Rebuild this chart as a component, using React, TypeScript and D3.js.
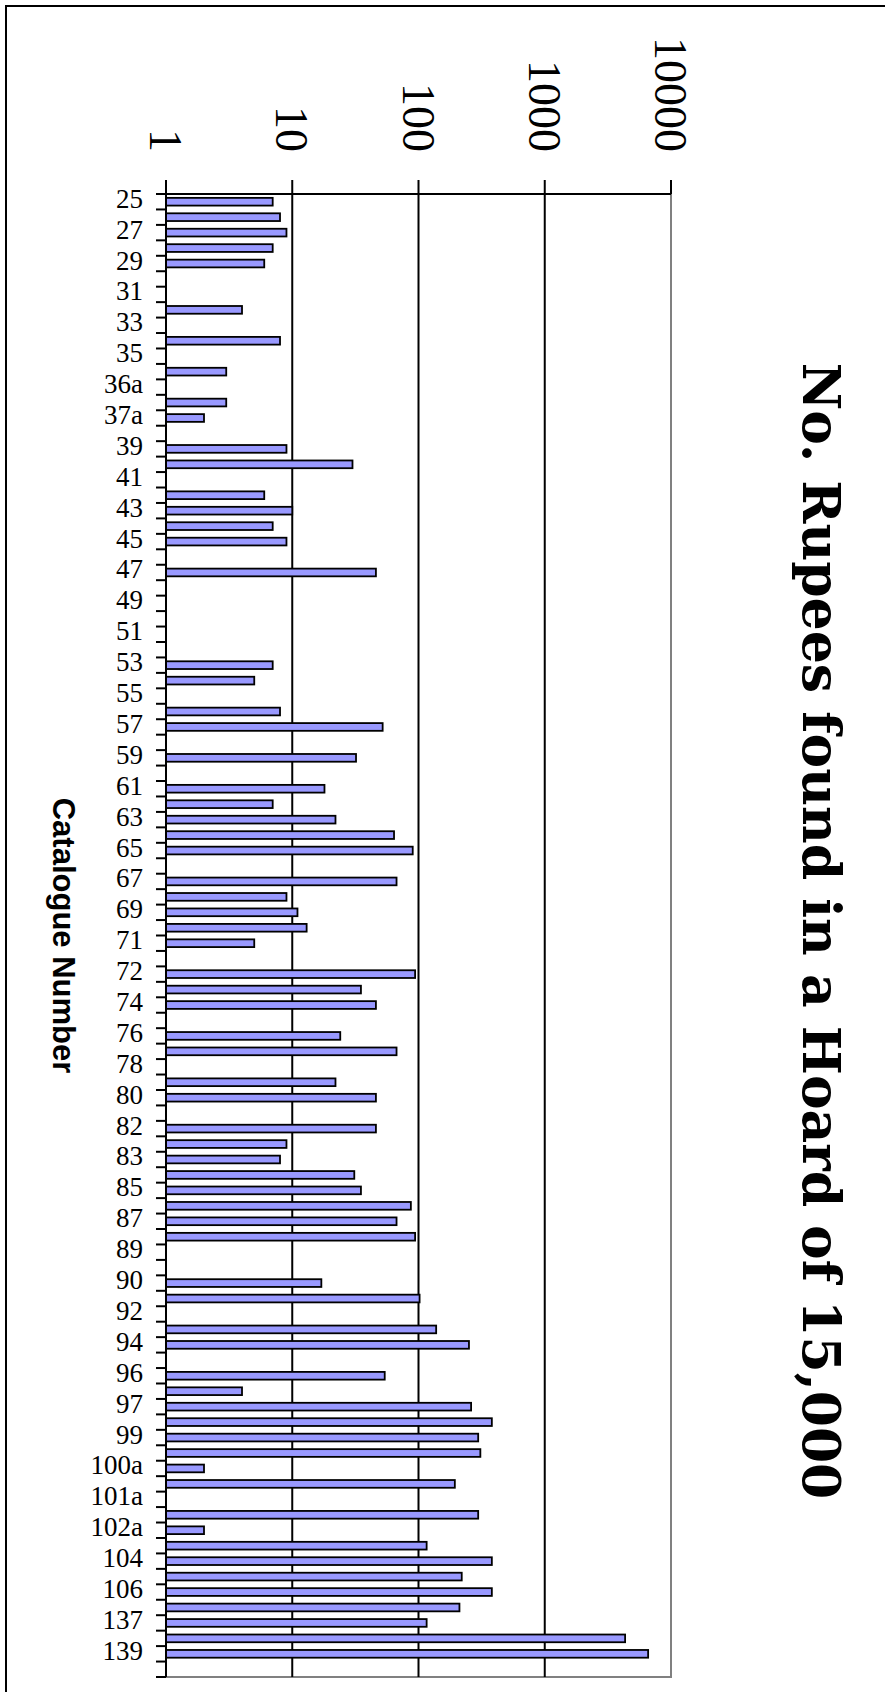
import React, { useEffect, useRef } from "react";
import * as d3 from "d3";

// catalogue numbers, top to bottom (only every other one gets a label)
const categories = [
  "25", "26", "27", "28", "29", "30", "31", "32", "33", "34", "35", "36",
  "36a", "37", "37a", "38", "39", "40", "41", "42", "43", "44", "45", "46",
  "47", "48", "49", "50", "51", "52", "53", "54", "55", "56", "57", "58",
  "59", "60", "61", "62", "63", "64", "65", "66", "67", "68", "69", "70",
  "71", "71a", "72", "73", "74", "75", "76", "77", "78", "79", "80", "81",
  "82", "82a", "83", "84", "85", "86", "87", "88", "89", "89a", "90", "91",
  "92", "93", "94", "95", "96", "96a", "97", "98", "99", "100", "100a", "101",
  "101a", "102", "102a", "103", "104", "105", "106", "136", "137", "138", "139", "140",
];

// number of rupees per catalogue number (0 = none found)
const rupees = [
  7, 8, 9, 7, 6, 0, 0, 4, 0, 8, 0, 3,
  0, 3, 2, 0, 9, 30, 0, 6, 10, 7, 9, 0,
  46, 0, 0, 0, 0, 0, 7, 5, 0, 8, 52, 0,
  32, 0, 18, 7, 22, 64, 90, 0, 67, 9, 11, 13,
  5, 0, 94, 35, 46, 0, 24, 67, 0, 22, 46, 0,
  46, 9, 8, 31, 35, 87, 67, 94, 0, 0, 17, 102,
  0, 138, 251, 0, 54, 4, 261, 381, 297, 309, 2, 194,
  0, 297, 2, 116, 381, 220, 381, 211, 116, 4330, 6590, 0,
];

const valueTicks = [1, 10, 100, 1000, 10000];

const title = "No. Rupees found in a Hoard of 15,000";
const axisTitle = "Catalogue Number";

const WIDTH = 885;
const HEIGHT = 1692;
const plot = { left: 166, right: 671, top: 194, bottom: 1677 };

export default function App() {
  const ref = useRef<SVGSVGElement>(null);

  useEffect(() => {
    const svg = d3.select(ref.current);
    svg.selectAll("*").remove();

    const x = d3.scaleLog().domain([1, 10000]).range([plot.left, plot.right]);
    const y = d3
      .scaleBand<string>()
      .domain(categories)
      .range([plot.top, plot.bottom])
      .paddingInner(0.5)
      .paddingOuter(0.25);
    const step = y.step();

    // chart frame (right / bottom edges fall outside the page)
    svg
      .append("rect")
      .attr("x", 6)
      .attr("y", 6)
      .attr("width", 1200)
      .attr("height", 2000)
      .attr("fill", "none")
      .attr("stroke", "#000")
      .attr("stroke-width", 2);

    // plot area border
    svg
      .append("rect")
      .attr("x", plot.left)
      .attr("y", plot.top)
      .attr("width", plot.right - plot.left)
      .attr("height", plot.bottom - plot.top)
      .attr("fill", "#fff")
      .attr("stroke", "#808080")
      .attr("stroke-width", 2);

    // gridlines
    svg
      .append("g")
      .selectAll("line")
      .data(valueTicks.slice(1, -1))
      .join("line")
      .attr("x1", (d) => x(d))
      .attr("x2", (d) => x(d))
      .attr("y1", plot.top)
      .attr("y2", plot.bottom)
      .attr("stroke", "#000")
      .attr("stroke-width", 2);

    // bars
    const rows = categories
      .map((c, i) => ({ cat: c, value: rupees[i] }))
      .filter((d) => d.value > 0);
    svg
      .append("g")
      .selectAll("rect")
      .data(rows)
      .join("rect")
      .attr("x", x(1))
      .attr("y", (d) => y(d.cat) ?? 0)
      .attr("width", (d) => x(d.value) - x(1))
      .attr("height", y.bandwidth())
      .attr("fill", "#9999ff")
      .attr("stroke", "#000")
      .attr("stroke-width", 1.8);

    // value axis along the top
    const vAxis = svg.append("g");
    vAxis
      .append("line")
      .attr("x1", plot.left)
      .attr("x2", plot.right)
      .attr("y1", plot.top)
      .attr("y2", plot.top)
      .attr("stroke", "#000")
      .attr("stroke-width", 2);
    vAxis
      .selectAll(".tick")
      .data(valueTicks)
      .join("line")
      .attr("class", "tick")
      .attr("x1", (d) => x(d))
      .attr("x2", (d) => x(d))
      .attr("y1", plot.top - 14)
      .attr("y2", plot.top)
      .attr("stroke", "#000")
      .attr("stroke-width", 2);
    vAxis
      .selectAll("text")
      .data(valueTicks)
      .join("text")
      .attr("transform", (d) => `translate(${x(d) - 16},152) rotate(90)`)
      .attr("text-anchor", "end")
      .attr("font-family", "'Liberation Serif', serif")
      .attr("font-size", 46)
      .attr("fill", "#000")
      .text((d) => String(d));

    // category axis on the left
    const cAxis = svg.append("g");
    cAxis
      .append("line")
      .attr("x1", plot.left)
      .attr("x2", plot.left)
      .attr("y1", plot.top)
      .attr("y2", plot.bottom)
      .attr("stroke", "#000")
      .attr("stroke-width", 2);
    cAxis
      .selectAll(".tick")
      .data(d3.range(categories.length + 1))
      .join("line")
      .attr("class", "tick")
      .attr("x1", plot.left - 10)
      .attr("x2", plot.left)
      .attr("y1", (i) => plot.top + i * step)
      .attr("y2", (i) => plot.top + i * step)
      .attr("stroke", "#000")
      .attr("stroke-width", 2);
    cAxis
      .selectAll("text")
      .data(categories.filter((_, i) => i % 2 === 0))
      .join("text")
      .attr("x", 143)
      .attr("y", (d) => (y(d) ?? 0) + y.bandwidth() / 2 + 6)
      .attr("text-anchor", "end")
      .attr("font-family", "'Liberation Serif', serif")
      .attr("font-size", 27)
      .attr("fill", "#000")
      .text((d) => d);

    // axis title
    svg
      .append("text")
      .attr("transform", `translate(53,${(plot.top + plot.bottom) / 2}) rotate(90)`)
      .attr("text-anchor", "middle")
      .attr("font-family", "'Liberation Sans', Arial, sans-serif")
      .attr("font-weight", "bold")
      .attr("font-size", 31)
      .attr("fill", "#000")
      .text(axisTitle);

    // chart title
    svg
      .append("text")
      .attr("transform", `translate(803,931) rotate(90)`)
      .attr("text-anchor", "middle")
      .attr("font-family", "'DejaVu Serif', serif")
      .attr("font-weight", "bold")
      .attr("font-size", 52)
      .attr("fill", "#000")
      .text(title);
  }, []);

  return (
    <svg
      ref={ref}
      width={WIDTH}
      height={HEIGHT}
      style={{ position: "absolute", left: 0, top: 0, background: "#fff" }}
    />
  );
}
